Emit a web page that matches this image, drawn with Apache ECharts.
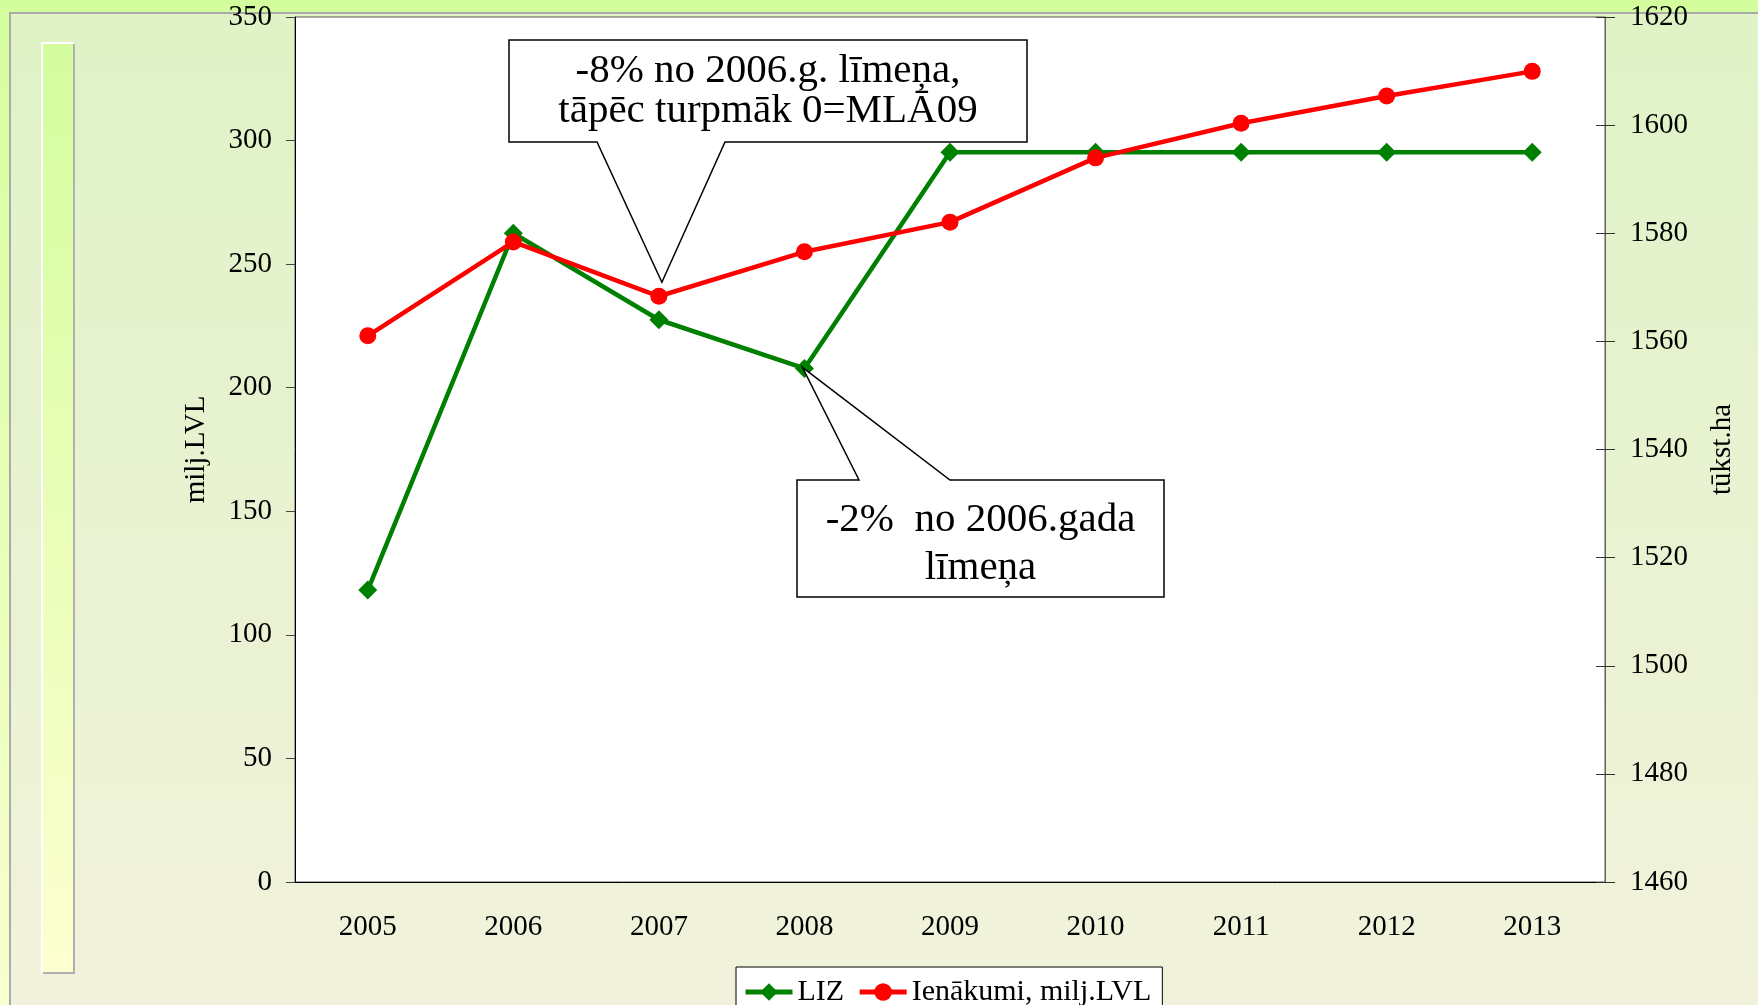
<!DOCTYPE html>
<html>
<head>
<meta charset="utf-8">
<script src="https://cdn.jsdelivr.net/npm/echarts@6/dist/echarts.min.js"></script>
<style>
  html, body { margin: 0; padding: 0; }
  #chart { width: 1758px; height: 1005px; }
</style>
</head>
<body>
<div id="chart"></div>
<script>
// dati
const years = ['2005', '2006', '2007', '2008', '2009', '2010', '2011', '2012', '2013'];
const lizValues = [1514, 1580, 1564, 1555, 1595, 1595, 1595, 1595, 1595];   // tūkst.ha (labā ass)
const incomeValues = [221, 259, 237, 255, 267, 293, 307, 318, 328];        // milj.LVL (kreisā ass)
const leftAxisTicks = [0, 50, 100, 150, 200, 250, 300, 350];
const rightAxisTicks = [1460, 1480, 1500, 1520, 1540, 1560, 1580, 1600, 1620];
const seriesNames = ['LIZ', 'Ienākumi, milj.LVL'];
const noteIncome = '-8% no 2006.g. līmeņa,\ntāpēc turpmāk 0=MLĀ09';
const noteLiz = '-2%  no 2006.gada\nlīmeņa';

const font = "'Liberation Serif', 'Times New Roman', serif";
const fontSize = 29;

const chart = echarts.init(document.getElementById('chart'));

// fons ar zaļo joslu kreisajā pusē
const decorations = [
    {
        type: 'rect', z: -20, silent: true,
        shape: { x: 0, y: 0, width: 1758, height: 1005 },
        style: { fill: new echarts.graphic.LinearGradient(0, 0, 0, 1, [
            { offset: 0, color: '#d4fe9d' }, { offset: 1, color: '#f9ffcf' }]) }
    },
    {
        type: 'rect', z: -19, silent: true,
        shape: { x: 10, y: 13, width: 1760, height: 1000 },
        style: {
            fill: new echarts.graphic.LinearGradient(0, 0, 0, 1, [
                { offset: 0, color: '#dff3c6' }, { offset: 1, color: '#f2f2dc' }]),
            stroke: '#aaaaaa', lineWidth: 2
        }
    },
    {
        type: 'rect', z: -18, silent: true,
        shape: { x: 42, y: 43, width: 32, height: 930 },
        style: { fill: new echarts.graphic.LinearGradient(0, 0, 0, 1, [
            { offset: 0, color: '#d4fd9e' }, { offset: 1, color: '#fdffd0' }]) }
    },
    {
        type: 'polyline', z: -17, silent: true,
        shape: { points: [[42, 973], [42, 43], [74, 43]] },
        style: { stroke: '#ffffff', lineWidth: 2, fill: null }
    },
    {
        type: 'polyline', z: -17, silent: true,
        shape: { points: [[74, 44], [74, 973], [43, 973]] },
        style: { stroke: '#b0b0b0', lineWidth: 2, fill: null }
    }
];

const option = {
    animation: false,
    textStyle: { fontFamily: font, color: '#000' },
    grid: {
        left: 295,
        right: 153,
        top: 17,
        bottom: 123,
        show: true,
        backgroundColor: '#ffffff',
        borderColor: '#555555',
        borderWidth: 1,
        outerBoundsMode: 'none'
    },
    legend: {
        data: seriesNames,
        left: 736,
        top: 967,
        padding: [10, 11, 30, 7],
        itemGap: 13,
        itemWidth: 47,
        itemHeight: 22,
        backgroundColor: '#ffffff',
        borderColor: '#000000',
        borderWidth: 1,
        lineStyle: { width: 5 },
        textStyle: { fontSize: 30, fontFamily: font, color: '#000' }
    },
    xAxis: {
        type: 'category',
        data: years,
        axisLine: { lineStyle: { color: '#000', width: 1 } },
        axisTick: { length: 10, interval: 0, lineStyle: { color: '#333' } },
        axisLabel: { fontSize: fontSize, fontFamily: font, color: '#000', margin: 31, interval: 0 }
    },
    yAxis: [
        {
            type: 'value',
            position: 'left',
            min: leftAxisTicks[0],
            max: leftAxisTicks[leftAxisTicks.length - 1],
            interval: leftAxisTicks[1] - leftAxisTicks[0],
            name: 'milj.LVL',
            nameLocation: 'middle',
            nameRotate: 90,
            nameGap: 84,
            nameTextStyle: { fontSize: fontSize, fontFamily: font, color: '#000' },
            axisLine: { show: true, lineStyle: { color: '#000' } },
            axisTick: { show: true, length: 9, lineStyle: { color: '#444' } },
            axisLabel: { fontSize: fontSize, fontFamily: font, color: '#000', margin: 23 },
            splitLine: { show: false }
        },
        {
            type: 'value',
            position: 'right',
            min: rightAxisTicks[0],
            max: rightAxisTicks[rightAxisTicks.length - 1],
            interval: rightAxisTicks[1] - rightAxisTicks[0],
            name: 'tūkst.ha',
            nameLocation: 'middle',
            nameRotate: 90,
            nameGap: 103,
            nameTextStyle: { fontSize: fontSize, fontFamily: font, color: '#000' },
            axisLine: { show: true, lineStyle: { color: '#666' } },
            axisTick: { show: true, length: 10, lineStyle: { color: '#333' } },
            axisLabel: {
                fontSize: fontSize, fontFamily: font, color: '#000', margin: 25,
                formatter: function (v) { return String(v); }
            },
            splitLine: { show: false }
        },
        {
            // tikai iekšējās iedaļas labajai asij (lai tās krustotu asi)
            type: 'value',
            position: 'right',
            min: rightAxisTicks[0],
            max: rightAxisTicks[rightAxisTicks.length - 1],
            interval: rightAxisTicks[1] - rightAxisTicks[0],
            axisLine: { show: false },
            axisTick: { show: true, inside: true, length: 9, lineStyle: { color: '#333' } },
            axisLabel: { show: false },
            splitLine: { show: false }
        }
    ],
    series: [
        {
            name: seriesNames[0],
            type: 'line',
            yAxisIndex: 1,
            data: lizValues,
            symbol: 'diamond',
            symbolSize: 19,
            lineStyle: { color: '#008000', width: 4.5 },
            itemStyle: { color: '#008000' }
        },
        {
            name: seriesNames[1],
            type: 'line',
            yAxisIndex: 0,
            data: incomeValues,
            symbol: 'circle',
            symbolSize: 17,
            lineStyle: { color: '#ff0000', width: 4.5 },
            itemStyle: { color: '#ff0000' }
        }
    ],
    graphic: decorations
};

chart.setOption(option);

// norādes - smailes piesaistītas datu punktiem
function callouts() {
    const p1 = chart.convertToPixel({ seriesIndex: 1 }, [2, incomeValues[2]]);
    const p2 = chart.convertToPixel({ seriesIndex: 0 }, [3, lizValues[3]]);
    const tip1 = [p1[0] + 3, p1[1] - 14];
    const tip2 = [p2[0] - 2, p2[1] - 1];

    const box1 = { x1: 509, y1: 40, x2: 1027, y2: 142 };
    const box2 = { x1: 797, y1: 480, x2: 1164, y2: 597 };

    return [
        {
            type: 'polygon', z: 100, silent: true,
            shape: { points: [
                [box1.x1, box1.y1], [box1.x2, box1.y1], [box1.x2, box1.y2],
                [725, box1.y2], tip1, [597, box1.y2], [box1.x1, box1.y2]
            ] },
            style: { fill: '#ffffff', stroke: '#000000', lineWidth: 1.5 }
        },
        {
            type: 'text', z: 101, silent: true,
            style: {
                text: noteIncome, x: (box1.x1 + box1.x2) / 2, y: 91,
                align: 'center', verticalAlign: 'middle',
                fontSize: 41, fontFamily: font, lineHeight: 40, fill: '#000'
            }
        },
        {
            type: 'polygon', z: 100, silent: true,
            shape: { points: [
                [box2.x1, box2.y1], [859, box2.y1], tip2, [950, box2.y1],
                [box2.x2, box2.y1], [box2.x2, box2.y2], [box2.x1, box2.y2]
            ] },
            style: { fill: '#ffffff', stroke: '#000000', lineWidth: 1.5 }
        },
        {
            type: 'text', z: 101, silent: true,
            style: {
                text: noteLiz, x: (box2.x1 + box2.x2) / 2, y: 544,
                align: 'center', verticalAlign: 'middle',
                fontSize: 41, fontFamily: font, lineHeight: 48, fill: '#000'
            }
        }
    ];
}

chart.setOption({ graphic: decorations.concat(callouts()) });
</script>
</body>
</html>
